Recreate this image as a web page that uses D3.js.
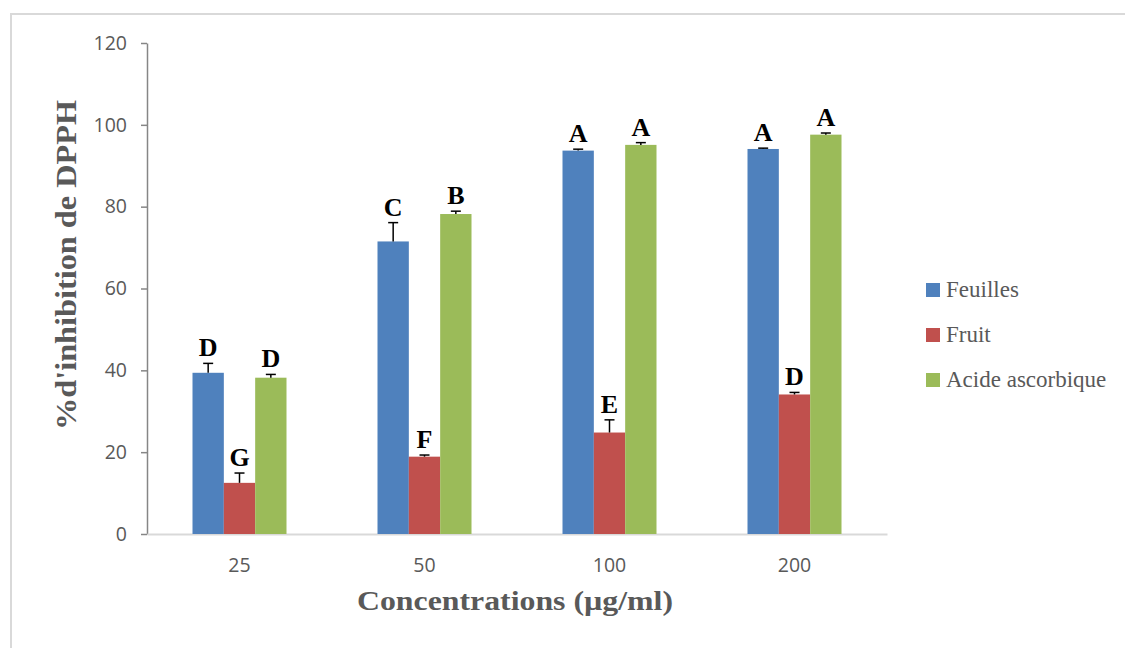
<!DOCTYPE html>
<html>
<head>
<meta charset="utf-8">
<script src="https://cdn.jsdelivr.net/npm/d3@7"></script>
<style>
  body { margin: 0; background: #fff; }
  svg { display: block; }
</style>
</head>
<body>
<div id="chart"></div>
<script>
// concentrations on the x axis
const concentrations = ["25", "50", "100", "200"];
const seriesNames = ["Feuilles", "Fruit", "Acide ascorbique"];
const seriesColors = ["#4f81bd", "#c0504d", "#9bbb59"];

// % inhibition
const feuilles = [39.4, 71.5, 93.7, 94.1];
const fruit = [12.5, 18.9, 24.8, 34.1];
const acide = [38.2, 78.2, 95.1, 97.6];

// upper error bars
const feuillesErr = [2.3, 4.6, 0.35, 0.2];
const fruitErr = [2.4, 0.4, 3.1, 0.5];
const acideErr = [0.8, 0.7, 0.55, 0.4];

// significance letters
const feuillesLetters = ["D", "C", "A", "A"];
const fruitLetters = ["G", "F", "E", "D"];
const acideLetters = ["D", "B", "A", "A"];

const yTicks = [0, 20, 40, 60, 80, 100, 120];

const width = 1125, height = 648;
const grey = "#595959";

const svg = d3.select("#chart").append("svg")
  .attr("width", width)
  .attr("height", height);

// outer frame (only left/top visible in the picture)
svg.append("rect")
  .attr("x", 11).attr("y", 14)
  .attr("width", width + 20).attr("height", height + 20)
  .attr("fill", "none")
  .attr("stroke", "#d9d9d9")
  .attr("stroke-width", 2);

const x0 = d3.scaleBand().domain(concentrations).range([147, 887]);
const x1 = d3.scaleBand().domain(seriesNames).range([45.5, 139.5]);
const y = d3.scaleLinear().domain([0, 120]).range([534, 43]);

const rows = concentrations.map((c, i) => ({
  c,
  items: [
    { s: seriesNames[0], v: feuilles[i], e: feuillesErr[i], l: feuillesLetters[i], col: seriesColors[0] },
    { s: seriesNames[1], v: fruit[i], e: fruitErr[i], l: fruitLetters[i], col: seriesColors[1] },
    { s: seriesNames[2], v: acide[i], e: acideErr[i], l: acideLetters[i], col: seriesColors[2] }
  ]
}));

// y axis
const yAxis = svg.append("g")
  .attr("transform", "translate(147,0)")
  .call(d3.axisLeft(y).tickValues(yTicks).tickSize(6).tickPadding(14).tickSizeOuter(0));
yAxis.select(".domain").attr("stroke", "#868686").attr("stroke-width", 1.5);
yAxis.selectAll(".tick line").attr("stroke", "#868686").attr("stroke-width", 1.5);
yAxis.selectAll(".tick text")
  .attr("fill", grey)
  .style("font-family", "'Open Sans', sans-serif")
  .style("font-size", "19.5px");

// x axis
const xAxis = svg.append("g")
  .attr("transform", "translate(0,534)")
  .call(d3.axisBottom(x0).tickSize(0).tickPadding(24));
xAxis.select(".domain").attr("stroke", "#d9d9d9").attr("stroke-width", 2);
xAxis.selectAll(".tick text")
  .attr("fill", grey)
  .style("font-family", "'Open Sans', sans-serif")
  .style("font-size", "19.5px");

const groups = svg.selectAll(".grp")
  .data(rows)
  .enter().append("g")
  .attr("class", "grp")
  .attr("transform", d => `translate(${x0(d.c)},0)`);

const bar = groups.selectAll(".bar")
  .data(d => d.items)
  .enter().append("g")
  .attr("class", "bar");

bar.append("rect")
  .attr("x", d => x1(d.s))
  .attr("width", x1.bandwidth())
  .attr("y", d => y(d.v))
  .attr("height", d => y(0) - y(d.v))
  .attr("fill", d => d.col);

// error bars (upper half only)
bar.append("line")
  .attr("x1", d => x1(d.s) + x1.bandwidth() / 2)
  .attr("x2", d => x1(d.s) + x1.bandwidth() / 2)
  .attr("y1", d => y(d.v))
  .attr("y2", d => y(d.v + d.e))
  .attr("stroke", "#000").attr("stroke-width", 1.5);
bar.append("line")
  .attr("x1", d => x1(d.s) + x1.bandwidth() / 2 - 5)
  .attr("x2", d => x1(d.s) + x1.bandwidth() / 2 + 5)
  .attr("y1", d => y(d.v + d.e))
  .attr("y2", d => y(d.v + d.e))
  .attr("stroke", "#000").attr("stroke-width", 1.5);

bar.append("text")
  .attr("x", d => x1(d.s) + x1.bandwidth() / 2)
  .attr("y", d => y(d.v + d.e) - 7)
  .attr("text-anchor", "middle")
  .style("font-family", "'Liberation Serif', 'Times New Roman', serif")
  .style("font-weight", "bold")
  .style("font-size", "26px")
  .attr("fill", "#000")
  .text(d => d.l);

// axis titles
svg.append("text")
  .attr("transform", "translate(76,265) rotate(-90)")
  .attr("text-anchor", "middle")
  .attr("textLength", 330)
  .attr("lengthAdjust", "spacingAndGlyphs")
  .style("font-family", "'Liberation Serif', 'Times New Roman', serif")
  .style("font-weight", "bold")
  .style("font-size", "30px")
  .attr("fill", grey)
  .text("%d'inhibition de DPPH");

svg.append("text")
  .attr("x", 515).attr("y", 610)
  .attr("text-anchor", "middle")
  .attr("textLength", 316)
  .attr("lengthAdjust", "spacingAndGlyphs")
  .style("font-family", "'Liberation Serif', 'Times New Roman', serif")
  .style("font-weight", "bold")
  .style("font-size", "28px")
  .attr("fill", grey)
  .text("Concentrations (µg/ml)");

// legend
const legend = svg.selectAll(".leg")
  .data(seriesNames)
  .enter().append("g")
  .attr("class", "leg")
  .attr("transform", (d, i) => `translate(926,${283 + i * 45})`);
legend.append("rect")
  .attr("width", 14).attr("height", 14)
  .attr("fill", (d, i) => seriesColors[i]);
legend.append("text")
  .attr("x", 20).attr("y", 14)
  .style("font-family", "'Liberation Serif', 'Times New Roman', serif")
  .style("font-size", "23px")
  .attr("fill", grey)
  .text(d => d);
</script>
</body>
</html>
